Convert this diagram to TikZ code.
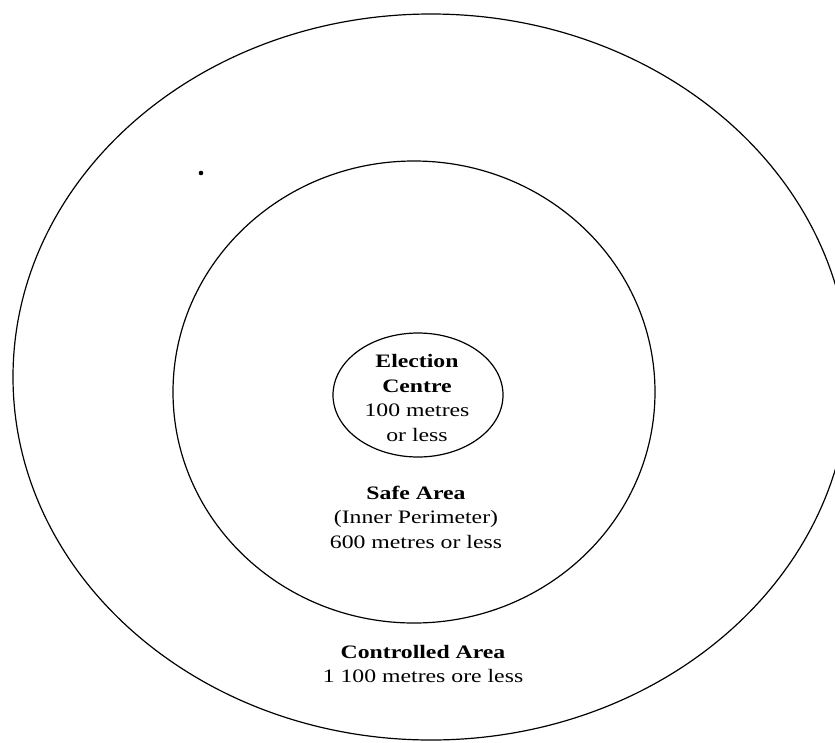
\documentclass[tikz,border=0pt]{standalone}
\usepackage{fontspec}
\setmainfont[FakeStretch=1.25]{Liberation Serif}
\usetikzlibrary{shapes.geometric}
\tikzset{
  x=1pt,y=1pt,
  ring/.style={ellipse, draw=black, line width=1.2pt, inner sep=0pt, outer sep=0pt},
  label text/.style={align=center, inner sep=0pt, font=\fontsize{19}{24.5}\selectfont, text=black}
}
\begin{document}
\begin{tikzpicture}
\useasboundingbox (0,0) rectangle (835,-742);
\clip (0,0) rectangle (835,-742);
\fill[white] (0,0) rectangle (835,-742);
% outer controlled area
\node[ring, minimum width=836, minimum height=726] (outer) at (431,-377) {};
% inner safe area
\node[ring, minimum width=482, minimum height=462] (inner) at (414,-392) {};
% election centre
\node[ring, minimum width=170, minimum height=124] (centre) at (418,-395) {};
% texts
\node[label text] (centretext) at (417,-398) {\textbf{Election}\\\textbf{Centre}\\100 metres\\or less};
\node[label text] (safetext) at (416,-517) {\textbf{Safe Area}\\(Inner Perimeter)\\600 metres or less};
\node[label text] (ctrltext) at (423,-664) {\textbf{Controlled Area}\\1 100 metres ore less};
% speck
\fill (201,-173) circle (2.3);
\end{tikzpicture}
\end{document}
